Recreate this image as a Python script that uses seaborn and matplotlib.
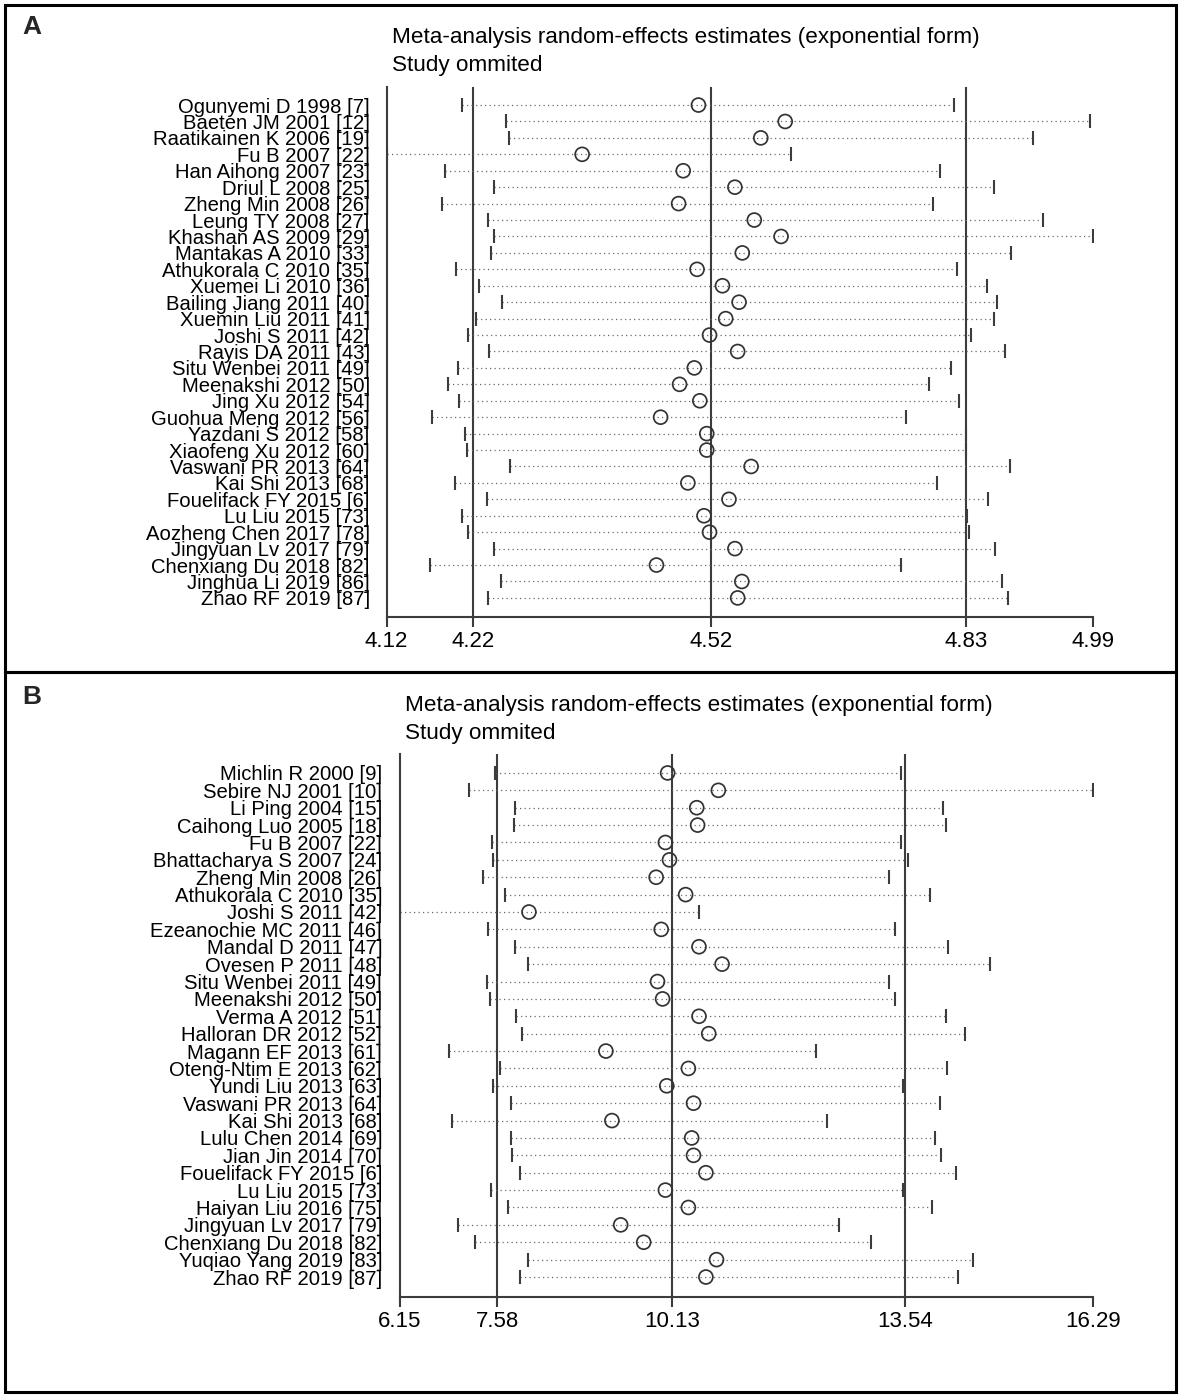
import matplotlib
matplotlib.use("Agg")
import matplotlib.pyplot as plt
import seaborn as sns
import pandas as pd
from matplotlib.patches import Rectangle
from matplotlib.ticker import FormatStrFormatter

# panel A: study omitted, estimate and 95% CI
studies_a = [
    "Ogunyemi D 1998 [7]", "Baeten JM 2001 [12]", "Raatikainen K 2006 [19]", "Fu B 2007 [22]",
    "Han Aihong 2007 [23]", "Driul L 2008 [25]", "Zheng Min 2008 [26]", "Leung TY 2008 [27]",
    "Khashan AS 2009 [29]", "Mantakas A 2010 [33]", "Athukorala C 2010 [35]", "Xuemei Li 2010 [36]",
    "Bailing Jiang 2011 [40]", "Xuemin Liu 2011 [41]", "Joshi S 2011 [42]", "Rayis DA 2011 [43]",
    "Situ Wenbei 2011 [49]", "Meenakshi 2012 [50]", "Jing Xu 2012 [54]", "Guohua Meng 2012 [56]",
    "Yazdani S 2012 [58]", "Xiaofeng Xu 2012 [60]", "Vaswani PR 2013 [64]", "Kai Shi 2013 [68]",
    "Fouelifack FY 2015 [6]", "Lu Liu 2015 [73]", "Aozheng Chen 2017 [78]", "Jingyuan Lv 2017 [79]",
    "Chenxiang Du 2018 [82]", "Jinghua Li 2019 [86]", "Zhao RF 2019 [87]",
]
est_a = [4.5007, 4.6073, 4.5773, 4.3578, 4.4820, 4.5455, 4.4763, 4.5693, 4.6022, 4.5546, 4.4990,
         4.5302, 4.5506, 4.5342, 4.5143, 4.5489, 4.4956, 4.4775, 4.5024, 4.4542, 4.5109, 4.5109,
         4.5654, 4.4877, 4.5382, 4.5075, 4.5143, 4.5455, 4.4491, 4.5540, 4.5489]
lo_a = [4.2099, 4.2643, 4.2677, 4.1174, 4.1894, 4.2495, 4.1860, 4.2427, 4.2495, 4.2461, 4.2031,
        4.2308, 4.2592, 4.2274, 4.2178, 4.2439, 4.2048, 4.1934, 4.2065, 4.1730, 4.2144, 4.2167,
        4.2694, 4.2014, 4.2410, 4.2099, 4.2178, 4.2495, 4.1713, 4.2581, 4.2427]
hi_a = [4.8143, 4.9815, 4.9118, 4.6147, 4.7973, 4.8636, 4.7893, 4.9237, 4.9855, 4.8852, 4.8182,
        4.8557, 4.8670, 4.8636, 4.8358, 4.8772, 4.8109, 4.7837, 4.8211, 4.7553, 4.8290, 4.8296,
        4.8835, 4.7939, 4.8568, 4.8302, 4.8330, 4.8653, 4.7491, 4.8732, 4.8812]
overall_a = [4.2234, 4.5166, 4.8299]

# panel B
studies_b = [
    "Michlin R 2000 [9]", "Sebire NJ 2001 [10]", "Li Ping 2004 [15]", "Caihong Luo 2005 [18]",
    "Fu B 2007 [22]", "Bhattacharya S 2007 [24]", "Zheng Min 2008 [26]", "Athukorala C 2010 [35]",
    "Joshi S 2011 [42]", "Ezeanochie MC 2011 [46]", "Mandal D 2011 [47]", "Ovesen P 2011 [48]",
    "Situ Wenbei 2011 [49]", "Meenakshi 2012 [50]", "Verma A 2012 [51]", "Halloran DR 2012 [52]",
    "Magann EF 2013 [61]", "Oteng-Ntim E 2013 [62]", "Yundi Liu 2013 [63]", "Vaswani PR 2013 [64]",
    "Kai Shi 2013 [68]", "Lulu Chen 2014 [69]", "Jian Jin 2014 [70]", "Fouelifack FY 2015 [6]",
    "Lu Liu 2015 [73]", "Haiyan Liu 2016 [75]", "Jingyuan Lv 2017 [79]", "Chenxiang Du 2018 [82]",
    "Yuqiao Yang 2019 [83]", "Zhao RF 2019 [87]",
]
est_b = [10.069, 10.810, 10.494, 10.507, 10.036, 10.096, 9.901, 10.332, 8.043, 9.975, 10.527,
         10.864, 9.921, 9.995, 10.527, 10.669, 9.167, 10.372, 10.056, 10.447, 9.255, 10.420,
         10.447, 10.628, 10.036, 10.372, 9.383, 9.719, 10.783, 10.628]
lo_b = [7.544, 7.167, 7.834, 7.820, 7.504, 7.524, 7.369, 7.699, 6.152, 7.443, 7.834, 8.022,
        7.423, 7.477, 7.854, 7.935, 6.878, 7.625, 7.524, 7.780, 6.925, 7.780, 7.800, 7.915,
        7.484, 7.739, 7.012, 7.255, 8.022, 7.908]
hi_b = [13.484, 16.287, 14.090, 14.130, 13.484, 13.578, 13.308, 13.908, 10.521, 13.383, 14.170,
        14.783, 13.308, 13.383, 14.130, 14.413, 12.231, 14.150, 13.504, 14.049, 12.393, 13.975,
        14.056, 14.285, 13.504, 13.928, 12.574, 13.046, 14.527, 14.312]
overall_b = [7.58, 10.13, 13.54]

W, H = 1181, 1397
LINE = "#3c3c3c"

sns.set_theme(style="white")
plt.rcParams["font.family"] = ["Liberation Sans", "DejaVu Sans"]

fig = plt.figure(figsize=(W / 100, H / 100), dpi=100)


def px_box(x0, x1, y_top, y_bot):
    return [x0 / W, 1 - y_bot / H, (x1 - x0) / W, (y_bot - y_top) / H]


def draw_panel(ax, names, est, lo, hi, overall, ylim, label_pad):
    df = pd.DataFrame({"study": names, "est": est, "lo": lo, "hi": hi})
    df["row"] = range(len(df))

    for ref in overall:
        ax.axvline(ref, color=LINE, lw=1.5, zorder=1)

    ax.hlines(df["row"], df["lo"], df["hi"], color="#6a6a6a", lw=0.9,
              linestyles=(0, (1, 2.6)), zorder=2)
    ax.plot(df["lo"], df["row"], "|", color=LINE, ms=10, mew=1.5, zorder=3)
    ax.plot(df["hi"], df["row"], "|", color=LINE, ms=10, mew=1.5, zorder=3)
    sns.scatterplot(data=df, x="est", y="row", ax=ax, marker="o", s=100,
                    facecolor="none", edgecolor="#333333", linewidth=1.25, zorder=4)

    xmin, xmax = df["lo"].min(), df["hi"].max()
    ax.set_xlim(xmin, xmax)
    ax.set_ylim(*ylim)
    ax.set_xticks([xmin] + list(overall) + [xmax])
    ax.xaxis.set_major_formatter(FormatStrFormatter("%.2f"))
    ax.set_yticks(df["row"])
    ax.set_yticklabels(df["study"])
    ax.set_xlabel("")
    ax.set_ylabel("")

    ax.tick_params(axis="x", direction="out", length=7.5, width=1.5, color=LINE,
                   labelsize=16, pad=2.5, bottom=True, labelcolor="black")
    ax.tick_params(axis="y", length=0, labelsize=14.6, pad=label_pad, labelcolor="black")
    for side in ["top", "right"]:
        ax.spines[side].set_visible(False)
    for side in ["left", "bottom"]:
        ax.spines[side].set_color(LINE)
        ax.spines[side].set_linewidth(1.5)
    ax.patch.set_alpha(0)


ax_a = fig.add_axes(px_box(386.5, 1093.0, 87.3, 617.3))
draw_panel(ax_a, studies_a, est_a, lo_a, hi_a, overall_a, (31.18, -1.08), 12)

ax_b = fig.add_axes(px_box(399.5, 1093.3, 754.0, 1297.0))
draw_panel(ax_b, studies_b, est_b, lo_b, hi_b, overall_b, (30.15, -1.09), 12.5)

# panel frames
for y0, y1 in [(5, 672), (672, 1392)]:
    fig.patches.append(Rectangle((5 / W, 1 - y1 / H), 1171 / W, (y1 - y0) / H,
                                 transform=fig.transFigure, fill=False,
                                 edgecolor="black", lw=2.2))

# titles and panel letters
for letter, ly, tx, t1, t2 in [("A", 27, 392, 38, 66), ("B", 697, 405, 705, 733)]:
    fig.text(22 / W, 1 - ly / H, letter, fontsize=19, fontweight="bold", va="center", ha="left")
    fig.text(tx / W, 1 - t1 / H, "Meta-analysis random-effects estimates (exponential form)",
             fontsize=16.2, va="center", ha="left", color="black")
    fig.text(tx / W, 1 - t2 / H, "Study ommited", fontsize=16.2, va="center", ha="left",
             color="black")

fig.savefig("out.png", dpi=100)
plt.close(fig)
